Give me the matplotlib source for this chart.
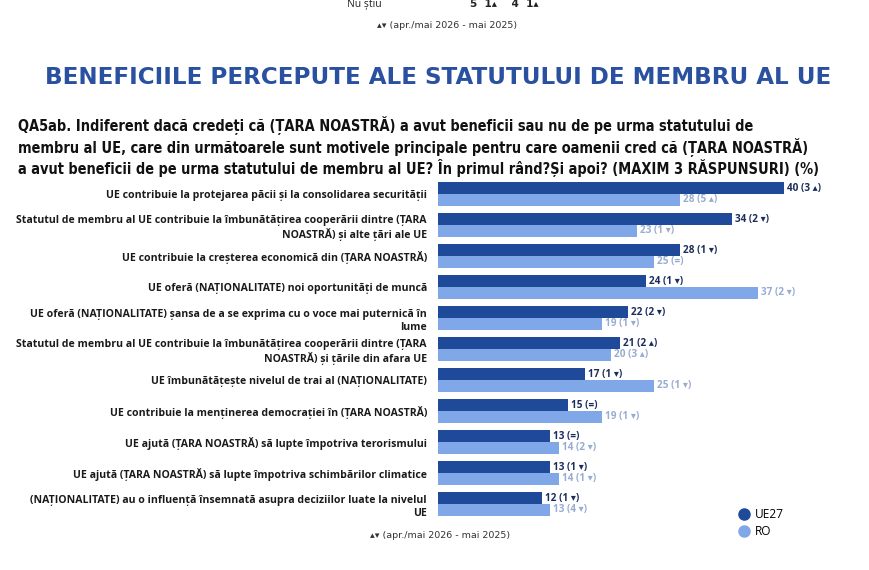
import matplotlib
matplotlib.use('agg')
import matplotlib.pyplot as plt
from matplotlib.lines import Line2D
from matplotlib import font_manager
import numpy as np

# data
labels = [
    'UE contribuie la protejarea păcii și la consolidarea securității',
    'Statutul de membru al UE contribuie la îmbunătățirea cooperării dintre (ȚARA\nNOASTRĂ) și alte țări ale UE',
    'UE contribuie la creșterea economică din (ȚARA NOASTRĂ)',
    'UE oferă (NAȚIONALITATE) noi oportunități de muncă',
    'UE oferă (NAȚIONALITATE) șansa de a se exprima cu o voce mai puternică în\nlume',
    'Statutul de membru al UE contribuie la îmbunătățirea cooperării dintre (ȚARA\nNOASTRĂ) și țările din afara UE',
    'UE îmbunătățește nivelul de trai al (NAȚIONALITATE)',
    'UE contribuie la menținerea democrației în (ȚARA NOASTRĂ)',
    'UE ajută (ȚARA NOASTRĂ) să lupte împotriva terorismului',
    'UE ajută (ȚARA NOASTRĂ) să lupte împotriva schimbărilor climatice',
    '(NAȚIONALITATE) au o influență însemnată asupra deciziilor luate la nivelul\nUE',
]
ue27 = [40, 34, 28, 24, 22, 21, 17, 15, 13, 13, 12]
ue27_change = ['3 ▴', '2 ▾', '1 ▾', '1 ▾', '2 ▾', '2 ▴', '1 ▾', '=', '=', '1 ▾', '1 ▾']
ro = [28, 23, 25, 37, 19, 20, 25, 19, 14, 14, 13]
ro_change = ['5 ▴', '1 ▾', '=', '2 ▾', '1 ▾', '3 ▴', '1 ▾', '1 ▾', '2 ▾', '1 ▾', '4 ▾']
series_names = ['UE27', 'RO']

DARK = '#1f4a9a'
LIGHT = '#80a8e8'
DARK_TXT = '#1c2d5c'
LIGHT_TXT = '#98acd2'
TITLE_C = '#2a50a0'
FONT = ['Open Sans', 'DejaVu Sans']

plt.rcParams['font.family'] = FONT

# the question text is set in a narrow face; use one if it is installed
q_props = dict(family=['Liberation Sans', 'DejaVu Sans'], fontsize=9.2)
for fam, stretch in [('Liberation Sans Narrow', 'normal'), ('DejaVu Sans', 'condensed')]:
    fp = font_manager.FontProperties(family=fam, stretch=stretch, weight='bold')
    try:
        path = font_manager.findfont(fp, fallback_to_default=False)
    except ValueError:
        continue
    if 'Narrow' in path or 'Condensed' in path:
        q_props = dict(family=[fam, 'DejaVu Sans'], fontstretch=stretch, fontsize=10.45)
        break

fig = plt.figure(figsize=(8.7, 5.7), dpi=100)
W, H = 870, 570

def fx(px):
    return px / W

def fy(py):
    return 1 - py / H

# bars: x starts at 438px, 8.65 px per unit
x0, x1 = 438, 870
top_px, bot_px = 178.5, 519.5
ax = fig.add_axes([fx(x0), fy(bot_px), fx(x1 - x0), (bot_px - top_px) / H])
ax.set_xlim(0, (x1 - x0) / 8.65)
n = len(labels)
ax.set_ylim(n - 0.5, -0.5)
y = np.arange(n)
h = 0.385
ax.barh(y - h / 2, ue27, height=h, color=DARK)
ax.barh(y + h / 2, ro, height=h, color=LIGHT)

for i in range(n):
    ax.text(ue27[i] + 0.35, y[i] - h / 2, '%d (%s)' % (ue27[i], ue27_change[i]),
            va='center', ha='left', fontsize=7.2, fontweight='bold',
            color=DARK_TXT, family=FONT)
    ax.text(ro[i] + 0.35, y[i] + h / 2, '%d (%s)' % (ro[i], ro_change[i]),
            va='center', ha='left', fontsize=7.2, fontweight='bold',
            color=LIGHT_TXT, family=FONT)

ax.set_yticks(y)
ax.set_yticklabels(labels, fontsize=7.6, fontweight='bold', color='#1a1a1a',
                   multialignment='right', linespacing=1.25)
ax.tick_params(axis='y', length=0, pad=8)
ax.set_xticks([])
for s in ax.spines.values():
    s.set_visible(False)

# top leftovers from the previous slide
fig.text(fx(347), fy(4), 'Nu știu', fontsize=7.5, va='center', ha='left', color='#222222')
fig.text(fx(470), fy(4), '5  1▴    4  1▴', fontsize=7.5, fontweight='bold',
         va='center', ha='left', color='#222222', family=['DejaVu Sans'])
fig.text(fx(447), fy(26), '▴▾ (apr./mai 2026 - mai 2025)', fontsize=6.8,
         va='center', ha='center', color='#333333', family=['DejaVu Sans'])

# title
fig.text(fx(438), fy(77), 'BENEFICIILE PERCEPUTE ALE STATUTULUI DE MEMBRU AL UE',
         fontsize=16.6, fontweight='bold', color=TITLE_C, ha='center', va='center',
         family=['DejaVu Sans'])

# question
question = ('QA5ab. Indiferent dacă credeți că (ȚARA NOASTRĂ) a avut beneficii sau nu de pe urma statutului de\n'
            'membru al UE, care din următoarele sunt motivele principale pentru care oamenii cred că (ȚARA NOASTRĂ)\n'
            'a avut beneficii de pe urma statutului de membru al UE? În primul rând?Și apoi? (MAXIM 3 RĂSPUNSURI) (%)')
fig.text(fx(18), fy(116), question, fontweight='bold', color='#111111',
         ha='left', va='top', linespacing=1.18, **q_props)

# legend
handles = [Line2D([], [], marker='o', ls='', ms=8, color=DARK),
           Line2D([], [], marker='o', ls='', ms=8, color=LIGHT)]
fig.legend(handles, series_names, loc='upper left', bbox_to_anchor=(fx(732), fy(503)),
           frameon=False, fontsize=8.6, handletextpad=0.3, labelspacing=0.35,
           borderaxespad=0, handlelength=1.2)

fig.text(fx(440), fy(536), '▴▾ (apr./mai 2026 - mai 2025)', fontsize=6.8,
         va='center', ha='center', color='#333333', family=['DejaVu Sans'])

fig.savefig('out.png', dpi=100, facecolor='white')
